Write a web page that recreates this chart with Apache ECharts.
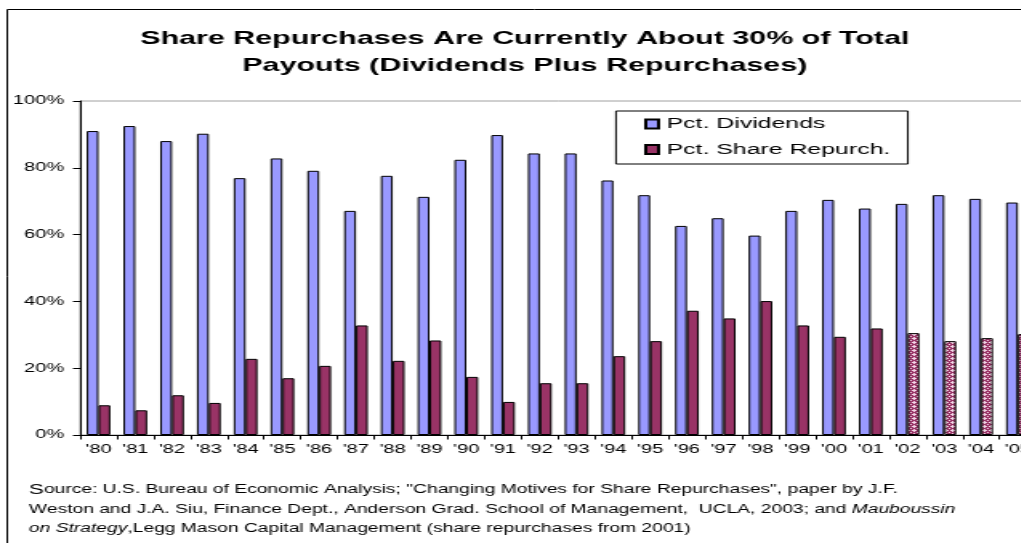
<!DOCTYPE html>
<html>
<head>
<meta charset="utf-8">
<script src="https://cdn.jsdelivr.net/npm/echarts@6/dist/echarts.min.js"></script>
<style>
  html, body { margin: 0; padding: 0; background: #fff; overflow: hidden; width: 1021px; height: 543px; }
  #chart { position: absolute; left: 0; top: 0; height: 543px; transform-origin: 0 0; }
</style>
</head>
<body>
<div id="chart"></div>
<script>
// Payout split by year, in percent of total payouts
const years = ["'80", "'81", "'82", "'83", "'84", "'85", "'86", "'87", "'88", "'89",
               "'90", "'91", "'92", "'93", "'94", "'95", "'96", "'97", "'98", "'99",
               "'00", "'01", "'02", "'03", "'04", "'05"];
const dividends = [91.0, 92.5, 88.0, 90.2, 76.9, 82.8, 79.1, 67.1, 77.6, 71.3,
                   82.4, 89.8, 84.3, 84.3, 76.2, 71.8, 62.6, 64.9, 59.7, 67.1,
                   70.4, 67.8, 69.2, 71.8, 70.7, 69.6];
const repurchases = [8.9, 7.4, 11.9, 9.6, 22.8, 17.0, 20.7, 32.8, 22.2, 28.3,
                     17.4, 9.9, 15.5, 15.5, 23.6, 28.1, 37.2, 34.9, 40.1, 32.8,
                     29.4, 31.9, 30.5, 28.1, 29.0, 30.2];
// Years drawn with the cross-hatched fill (later repurchase source)
const hatchedYears = ["'02", "'03", "'04", "'05"];
const seriesNames = ['Pct. Dividends', 'Pct. Share Repurch.'];
const yTickLabels = ['0%', '20%', '40%', '60%', '80%', '100%'];

const titleLines = ['Share Repurchases Are Currently About 30% of Total',
                    'Payouts (Dividends Plus Repurchases)'];
const sourceLines = [
  '{b|S}ource: U.S. Bureau of Economic Analysis; "Changing Motives for Share Repurchases", paper by J.F.',
  'Weston and J.A. Siu, Finance Dept., Anderson Grad. School of Management,  UCLA, 2003; and {i|Mauboussin}',
  '{i|on Strategy},Legg Mason Capital Management (share repurchases from 2001)'
];

// The chart is laid out on a narrower canvas and widened horizontally.
const SX = 1.6;
const W = 1060 / SX;
const H = 543;
const FF = "'Liberation Sans', Arial, Helvetica, sans-serif";
const el = document.getElementById('chart');
el.style.width = W + 'px';
el.style.transform = 'scaleX(' + SX + ')';

// Small light "plus" marks on maroon for the hatched bars
function crossHatch() {
  const c = document.createElement('canvas');
  c.width = 4; c.height = 4;
  const g = c.getContext('2d');
  g.fillStyle = '#993366';
  g.fillRect(0, 0, 4, 4);
  g.fillStyle = '#f2d6e6';
  [[2, 1], [1, 2], [2, 2], [3, 2], [2, 3], [0, 0]].forEach(([x, y]) => g.fillRect(x, y, 1, 1));
  return { image: c, repeat: 'repeat' };
}
const hatch = crossHatch();

const repurchData = repurchases.map((v, i) =>
  hatchedYears.indexOf(years[i]) >= 0 ? { value: v, itemStyle: { color: hatch } } : v);

const chart = echarts.init(el, null, { renderer: 'canvas', width: W, height: H });

const barStyle = { borderColor: '#000', borderWidth: 1 };

chart.setOption({
  animation: false,
  backgroundColor: '#fff',
  textStyle: { fontFamily: FF },
  title: {
    text: titleLines.join('\n'),
    left: 327.5,
    top: 25.5,
    padding: 0,
    textAlign: 'center',
    textStyle: { fontFamily: FF, fontSize: 19, fontWeight: 'bold', color: '#000', lineHeight: 27 }
  },
  legend: {
    data: seriesNames,
    orient: 'vertical',
    left: 384.4,
    top: 111,
    padding: [5, 11, 6.5, 17.6],
    itemGap: 9.5,
    itemWidth: 8,
    itemHeight: 9,
    icon: 'rect',
    backgroundColor: '#fff',
    borderColor: '#000',
    borderWidth: 1,
    borderRadius: 0,
    textStyle: { fontFamily: FF, fontSize: 15.5, color: '#000', lineHeight: 16 }
  },
  grid: {
    left: 50,
    right: W - 1034.7 / SX,
    top: 101,
    bottom: H - 435,
    show: true,
    borderColor: '#a0a0a0',
    borderWidth: 1,
    backgroundColor: 'transparent'
  },
  xAxis: {
    type: 'category',
    data: years,
    axisLine: { lineStyle: { color: '#000', width: 1 } },
    axisTick: { show: true, length: 4.5, lineStyle: { color: '#000' } },
    axisLabel: { interval: 0, margin: 8, fontSize: 12.5, color: '#000', fontFamily: FF },
    splitLine: { show: false }
  },
  yAxis: {
    type: 'value',
    min: 0,
    max: 100,
    interval: 20,
    axisLine: { show: true, lineStyle: { color: '#000', width: 1 } },
    axisTick: { show: true, length: 4.5, lineStyle: { color: '#000' } },
    axisLabel: {
      margin: 10, fontSize: 12.5, color: '#000', fontFamily: FF,
      formatter: (v) => yTickLabels[Math.round(v / 20)]
    },
    splitLine: { show: false }
  },
  series: [
    {
      name: seriesNames[0],
      type: 'bar',
      data: dividends,
      barWidth: 7.4,
      barGap: '0%',
      itemStyle: Object.assign({ color: '#9999ff' }, barStyle)
    },
    {
      name: seriesNames[1],
      type: 'bar',
      data: repurchData,
      barWidth: 7.4,
      barGap: '0%',
      itemStyle: Object.assign({ color: '#993366' }, barStyle)
    }
  ],
  graphic: [
    {
      type: 'rect',
      silent: true,
      z: -1,
      shape: { x: 4.5, y: 9.5, width: 2000, height: 2000 },
      style: { fill: 'none', stroke: '#000', lineWidth: 1 }
    }
  ].concat(sourceLines.map((line, i) => ({
    type: 'text',
    silent: true,
    x: 18.1,
    y: 490 + i * 19.5,
    style: {
      text: line,
      fontFamily: FF,
      fontSize: 12,
      fill: '#000',
      verticalAlign: 'middle',
      rich: {
        b: { fontFamily: FF, fontSize: 14, fill: '#000' },
        i: { fontFamily: FF, fontSize: 12, fontStyle: 'italic', fill: '#000' }
      }
    }
  })))
});
</script>
</body>
</html>
